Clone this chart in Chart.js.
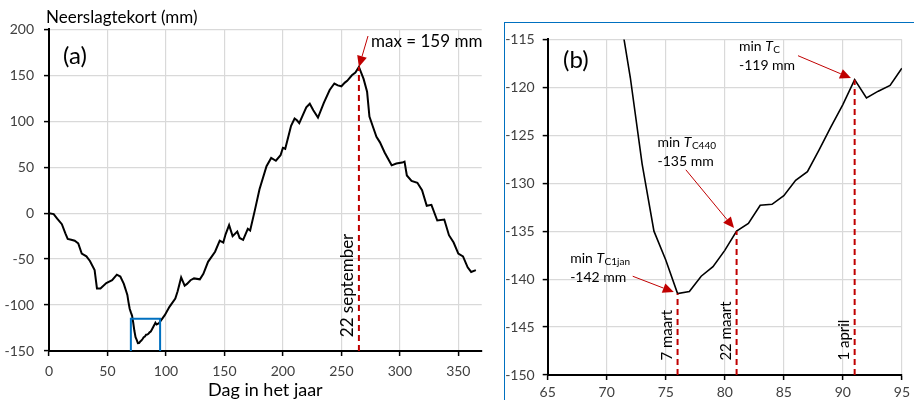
<!DOCTYPE html>
<html>
<head>
<meta charset="utf-8">
<script src="https://cdn.jsdelivr.net/npm/chart.js@4.4.1/dist/chart.umd.min.js"></script>
<style>
  body { margin: 0; background: #fff; }
  #wrap { position: relative; width: 914px; height: 400px; overflow: hidden; }
  #chartA { position: absolute; left: 0; top: 0; }
  #chartB { position: absolute; left: 505px; top: 23px; }
  #kaderB { position: absolute; left: 504px; top: 22px; width: 412px; height: 400px;
            border: 1.5px solid #0070C0; box-sizing: border-box; }
</style>
</head>
<body>
<div id="wrap">
  <div id="kaderB"></div>
  <canvas id="chartA" width="500" height="400"></canvas>
  <canvas id="chartB" width="409" height="377"></canvas>
</div>
<script>
// neerslagtekort per dag (gelezen uit de figuur)
let dagen = [0,4,7,11,14,16,19,22,24,25,28,32,35,39,41,44,49,54,58,61,64,
  65,66,67,68,69,70,71,72,73,74,75,76,77,78,79,80,81,82,83,84,85,86,87,88,89,90,91,92,93,94,95,
  99,103,108,110,113,116,118,121,124,129,132,136,142,146,149,151,154,157,161,163,166,170,172,
  176,180,186,190,194,198,200,202,207,210,212,214,220,223,226,230,235,240,244,247,250,253,255,
  259,262,265,269,272,274,277,280,283,287,293,297,302,304,306,310,315,319,323,327,332,338,342,
  346,350,354,358,361,365];
let tekort = [0,-1,-6,-12,-22,-28,-29,-30,-32,-33,-44,-47,-52,-62,-82,-82,-76,-73,-67,-69,-77,
  -81,-85,-89,-97,-104,-108,-111.5,-119,-128,-135,-138,-141.5,-141.3,-139.7,-138.7,-137,-135,-134.2,
  -132.3,-132.2,-131.3,-129.7,-128.8,-126.5,-124.1,-121.8,-119.2,-121.1,-120.4,-119.8,-118,
  -111,-102,-93,-85,-70,-79,-77,-73,-71,-72,-66,-53,-42,-30,-32,-23,-13,-25,-20,-27,-29,-17,-19,
  3,26,51,60,57,63,71,70,95,103,101,98,115,119,112,104,120,134,141,139,138,142,144,
  150,153,159,146,132,105,94,83,77,66,52,54,55,56,41,35,33,25,8,9,-8,-7,-24,
  -32,-44,-47,-59,-64,-62];

let ticksXA = [0,50,100,150,200,250,300,350];
let ticksYA = [-150,-100,-50,0,50,100,150,200];
let ticksXB = [65,70,75,80,85,90,95];
let ticksYB = [-150,-145,-140,-135,-130,-125,-120,-115];

// max (a) en kader rond de inzet
let maxDag = 265, maxWaarde = 159;
let kaderX = [70,70,95,95];
let kaderY = [-150,-115,-115,-150];

// minima (b)
let minDagen = [76,81,91];
let minWaarden = [-141.5,-135,-119.2];
let minNamen = ['C1jan','C440','C'];
let minTeksten = ['-142 mm','-135 mm','-119 mm'];
let datumTeksten = ['7 maart','22 maart','1 april'];

const FONT = 'Lato, "Open Sans", sans-serif';
const ROOD = '#C00000';

function punten(xs, ys) {
  return xs.map((x, i) => ({ x: x, y: ys[i] }));
}

function pijl(ctx, x1, y1, x2, y2) {
  const a = Math.atan2(y2 - y1, x2 - x1);
  const len = 11, half = 5;
  const bx = x2 - len * Math.cos(a), by = y2 - len * Math.sin(a);
  ctx.save();
  ctx.strokeStyle = ROOD;
  ctx.fillStyle = ROOD;
  ctx.lineWidth = 1;
  ctx.beginPath();
  ctx.moveTo(x1, y1);
  ctx.lineTo(bx, by);
  ctx.stroke();
  ctx.beginPath();
  ctx.moveTo(x2, y2);
  ctx.lineTo(bx + half * Math.sin(a), by - half * Math.cos(a));
  ctx.lineTo(bx - half * Math.sin(a), by + half * Math.cos(a));
  ctx.closePath();
  ctx.fill();
  ctx.restore();
}

function staand(ctx, tekst, x, y, size) {
  ctx.save();
  ctx.translate(x, y);
  ctx.rotate(-Math.PI / 2);
  ctx.font = size + 'px ' + FONT;
  ctx.fillStyle = '#000';
  ctx.textAlign = 'left';
  ctx.textBaseline = 'middle';
  ctx.fillText(tekst, 0, 0);
  ctx.restore();
}

function schaal(ticks, min, max, tickPad) {
  return {
    type: 'linear', min: min, max: max,
    afterBuildTicks: s => { s.ticks = ticks.map(v => ({ value: v })); },
    grid: { color: '#d9d9d9', lineWidth: 1.2, tickColor: '#000', tickLength: 5, tickWidth: 1.5 },
    border: { color: '#000', width: 2 },
    ticks: { color: '#404040', font: { family: FONT, size: 14 }, padding: tickPad, maxRotation: 0, autoSkip: false }
  };
}

// ---------- grafiek (a) ----------
const labelsA = {
  id: 'labelsA',
  afterDatasetsDraw(chart) {
    const ctx = chart.ctx, xs = chart.scales.x, ys = chart.scales.y;
    ctx.save();
    ctx.fillStyle = '#000';
    ctx.textBaseline = 'middle';
    ctx.textAlign = 'left';
    ctx.font = '17px ' + FONT;
    ctx.fillText('Neerslagtekort (mm)', 46, 18);
    ctx.font = '24px ' + FONT;
    ctx.fillText('(a)', 63, 56);
    ctx.font = '17px ' + FONT;
    ctx.fillText('max = 159 mm', 371, 42);
    ctx.textAlign = 'center';
    ctx.font = '18px ' + FONT;
    ctx.fillText('Dag in het jaar', (chart.chartArea.left + chart.chartArea.right) / 2, 390);
    ctx.restore();
    const px = xs.getPixelForValue(maxDag), py = ys.getPixelForValue(maxWaarde);
    pijl(ctx, 368, 36, px, py);
    staand(ctx, '22 september', px - 11, ys.getPixelForValue(-135), 17);
  }
};

new Chart(document.getElementById('chartA'), {
  type: 'line',
  data: {
    datasets: [
      { data: punten([maxDag, maxDag], [-150, maxWaarde]), borderColor: ROOD, borderWidth: 2,
        borderDash: [6, 4], pointRadius: 0, clip: false },
      { data: punten(kaderX, kaderY), borderColor: '#0070C0', borderWidth: 2, pointRadius: 0, clip: false },
      { data: punten(dagen, tekort), borderColor: '#000', borderWidth: 2, pointRadius: 0, tension: 0 }
    ]
  },
  options: {
    responsive: false, animation: false, devicePixelRatio: 1,
    layout: { padding: { left: 0, right: 18.3, top: 29.3, bottom: 0 } },
    plugins: { legend: { display: false }, tooltip: { enabled: false } },
    scales: {
      x: Object.assign(schaal(ticksXA, 0, 370, 7), { afterFit: s => { s.height = 49; } }),
      y: Object.assign(schaal(ticksYA, -150, 200, 10), { afterFit: s => { s.width = 49; } })
    }
  },
  plugins: [labelsA]
});

// ---------- grafiek (b) ----------
const dagenB = dagen.filter(d => d >= 65 && d <= 95);
const tekortB = tekort.filter((v, i) => dagen[i] >= 65 && dagen[i] <= 95);

// plaats van teksten en pijlstaarten (in as-eenheden)
let tekstPos = [[66.9, -137.8], [74.3, -125.7], [81.2, -115.7]];
let pijlStart = [[72.2, -139.7], [76.7, -128.6], [86.2, -116.7]];

function minLabel(ctx, x, y, sub, regel2) {
  ctx.font = '14px ' + FONT;
  ctx.fillText('min ', x, y);
  let w = ctx.measureText('min ').width;
  ctx.font = 'italic 14px ' + FONT;
  ctx.fillText('T', x + w, y);
  w += ctx.measureText('T').width;
  ctx.font = '10px ' + FONT;
  ctx.fillText(sub, x + w + 0.5, y + 4);
  ctx.font = '14px ' + FONT;
  ctx.fillText(regel2, x, y + 19);
}

const labelsB = {
  id: 'labelsB',
  afterDatasetsDraw(chart) {
    const ctx = chart.ctx, xs = chart.scales.x, ys = chart.scales.y;
    ctx.save();
    ctx.fillStyle = '#000';
    ctx.textBaseline = 'middle';
    ctx.textAlign = 'left';
    ctx.font = '24px ' + FONT;
    ctx.fillText('(b)', 58, 37);
    minDagen.forEach((d, i) => {
      minLabel(ctx, xs.getPixelForValue(tekstPos[i][0]), ys.getPixelForValue(tekstPos[i][1]), minNamen[i], minTeksten[i]);
    });
    ctx.restore();
    minDagen.forEach((d, i) => {
      const px = xs.getPixelForValue(d), py = ys.getPixelForValue(minWaarden[i]);
      const sx = xs.getPixelForValue(pijlStart[i][0]), sy = ys.getPixelForValue(pijlStart[i][1]);
      const a = Math.atan2(py - sy, px - sx);
      pijl(ctx, sx, sy, px - 4 * Math.cos(a), py - 4 * Math.sin(a));
      staand(ctx, datumTeksten[i], px - 10, ys.getPixelForValue(-148.5), 15);
    });
  }
};

const lijnenB = minDagen.map((d, i) => ({
  data: punten([d, d], [-150, minWaarden[i]]), borderColor: ROOD, borderWidth: 2,
  borderDash: [6, 4], pointRadius: 0, clip: false
}));

new Chart(document.getElementById('chartB'), {
  type: 'line',
  data: {
    datasets: lijnenB.concat([
      { data: punten(dagenB, tekortB), borderColor: '#000', borderWidth: 1.6, pointRadius: 0, tension: 0 }
    ])
  },
  options: {
    responsive: false, animation: false, devicePixelRatio: 1,
    layout: { padding: { left: 0, right: 11.3, top: 10.3, bottom: 0 } },
    plugins: { legend: { display: false }, tooltip: { enabled: false } },
    scales: {
      x: Object.assign(schaal(ticksXB, 65, 95, 4), { afterFit: s => { s.height = 25; } }),
      y: Object.assign(schaal(ticksYB, -150, -115, 8), { afterFit: s => { s.width = 42.7; } })
    }
  },
  plugins: [labelsB]
});
</script>
</body>
</html>
